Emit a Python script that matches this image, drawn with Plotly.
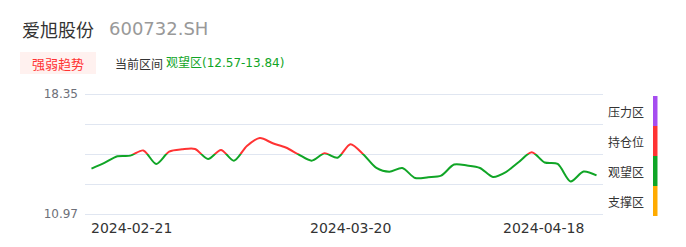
import plotly.graph_objects as go

# ---------------- data ----------------
dates = [
    "2024-02-21", "2024-02-22", "2024-02-23", "2024-02-26", "2024-02-27",
    "2024-02-28", "2024-02-29", "2024-03-01", "2024-03-04", "2024-03-05",
    "2024-03-06", "2024-03-07", "2024-03-08", "2024-03-11", "2024-03-12",
    "2024-03-13", "2024-03-14", "2024-03-15", "2024-03-18", "2024-03-19",
    "2024-03-20", "2024-03-21", "2024-03-22", "2024-03-25", "2024-03-26",
    "2024-03-27", "2024-03-28", "2024-03-29", "2024-04-01", "2024-04-02",
    "2024-04-03", "2024-04-08", "2024-04-09", "2024-04-10", "2024-04-11",
    "2024-04-12", "2024-04-15", "2024-04-16", "2024-04-17", "2024-04-18",
]
values = [
    13.76, 14.11, 14.52, 14.56, 14.88, 14.05, 14.81, 14.95, 14.97, 14.35,
    14.91, 14.25, 15.15, 15.64, 15.32, 15.06, 14.63, 14.25, 14.70, 14.43,
    15.26, 14.63, 13.80, 13.57, 13.80, 13.18, 13.23, 13.33, 14.01, 13.95,
    13.80, 13.25, 13.55, 14.17, 14.77, 14.14, 14.05, 12.97, 13.58, 13.34,
]
x_tick_labels = ["2024-02-21", "2024-03-20", "2024-04-18"]
y_min, y_max = 10.97, 18.35
threshold = 14.66
zone_names = ["压力区", "持仓位", "观望区", "支撑区"]
zone_colors = ["#a64df0", "#ff3333", "#10a526", "#ffab00"]
stock_name = "爱旭股份"
stock_code = "600732.SH"
tag_text = "强弱趋势"
current_label = "当前区间"
current_zone = "观望区(12.57-13.84)"

# ---------------- layout helpers ----------------
W, H = 686, 247
L, R, T, B = 85, 83, 94, 33
PW, PH = W - L - R, H - T - B
FONT = "DejaVu Sans, Noto Sans CJK SC, sans-serif"
CJK = "Noto Sans CJK SC, DejaVu Sans, sans-serif"
GREEN = "#10a526"
RED = "#ff3333"


def px(x):
    return (x - L) / PW


def py(y):
    return (H - B - y) / PH


step = (y_max - y_min) / 4
grid_values = [y_min + k * step for k in range(5)]
upper_ticks = [threshold, threshold + step, y_max]
lower_ticks = [y_min, y_min + step, threshold]

fig = go.Figure()
# red part (above threshold) drawn in the upper sub-area, green part below
fig.add_trace(go.Scatter(x=dates, y=values, yaxis="y2", mode="lines",
                         line=dict(color=RED, width=2, shape="spline", smoothing=0.8),
                         hoverinfo="skip", showlegend=False))
fig.add_trace(go.Scatter(x=dates, y=values, yaxis="y", mode="lines",
                         line=dict(color=GREEN, width=2, shape="spline", smoothing=0.8),
                         hoverinfo="skip", showlegend=False))

grid = "#e0e6f1"
fig.update_layout(
    width=W, height=H,
    margin=dict(l=L, r=R, t=T, b=B, pad=0),
    paper_bgcolor="white", plot_bgcolor="rgba(0,0,0,0)",
    font=dict(family=FONT, size=12, color="#333"),
    showlegend=False,
    xaxis=dict(type="category", range=[-0.5, len(dates) - 0.5], showgrid=False,
               showticklabels=False, ticks="", zeroline=False, showline=False,
               fixedrange=True),
    yaxis=dict(domain=[0, 0.5], range=[y_min, threshold], tickvals=lower_ticks,
               ticktext=[f"{y_min:.2f}", "", ""], showgrid=False,
               zeroline=False, showline=False, ticks="",
               tickfont=dict(size=12, color="#6e7079"), ticklabelstandoff=6),
    yaxis2=dict(domain=[0.5, 1], range=[threshold, y_max], tickvals=upper_ticks,
                ticktext=["", "", f"{y_max:.2f}"], showgrid=False,
                zeroline=False, showline=False, ticks="",
                tickfont=dict(size=12, color="#6e7079"), ticklabelstandoff=6,
                anchor="x"),
)

ann = []
shapes = []
# horizontal grid lines (paper position follows the shared linear y scale),
# nudged half a pixel so they render crisp
for yv in grid_values:
    yp = (yv - y_min) / (y_max - y_min) - 0.5 / PH
    shapes.append(dict(type="line", xref="paper", yref="paper", x0=0, x1=1, y0=yp, y1=yp,
                       line=dict(color=grid, width=1), layer="below"))

# header
ann.append(dict(text=stock_name, x=px(20), y=py(29), xanchor="left", yanchor="middle",
                font=dict(family=CJK, size=18, color="#333")))
ann.append(dict(text=stock_code, x=px(107), y=py(29), xanchor="left", yanchor="middle",
                font=dict(family=FONT, size=18, color="#999")))
shapes.append(dict(type="rect", xref="paper", yref="paper", x0=px(20), x1=px(96),
                   y0=py(74), y1=py(52), fillcolor="#fff1ef", line=dict(width=0), layer="below"))
ann.append(dict(text=tag_text, x=px(58), y=py(63), xanchor="center", yanchor="middle",
                font=dict(family=CJK, size=13, color="#ff3333")))
ann.append(dict(text=current_label, x=px(113), y=py(63), xanchor="left", yanchor="middle",
                font=dict(family=CJK, size=12, color="#333")))
ann.append(dict(text=current_zone, x=px(164), y=py(63), xanchor="left", yanchor="middle",
                font=dict(family=FONT, size=12, color=GREEN)))

# x labels: first left-aligned, middle centered, last right-aligned
anchors = ["left", "center", "right"]
shifts = [-2, 0, -11]
for lab, anc, sh in zip(x_tick_labels, anchors, shifts):
    ann.append(dict(text=lab, x=lab, xref="x", y=py(228), yref="paper",
                    xanchor=anc, yanchor="middle", xshift=sh,
                    font=dict(family=FONT, size=14, color="#333")))

# zone legend on the right
bar_top, bar_h = 96, 30
for i, (name, col) in enumerate(zip(zone_names, zone_colors)):
    y0 = bar_top + i * bar_h
    shapes.append(dict(type="rect", xref="paper", yref="paper", x0=px(653), x1=px(657.5),
                       y0=py(y0 + bar_h), y1=py(y0), fillcolor=col, line=dict(width=0)))
    ann.append(dict(text=name, x=px(606), y=py(y0 + bar_h / 2), xanchor="left",
                    yanchor="middle", font=dict(family=CJK, size=12, color="#333")))

for a in ann:
    a.setdefault("xref", "paper")
    a.setdefault("yref", "paper")
    a["showarrow"] = False
fig.update_layout(annotations=ann, shapes=shapes)

fig.write_html("out.html", config={"displayModeBar": False})
